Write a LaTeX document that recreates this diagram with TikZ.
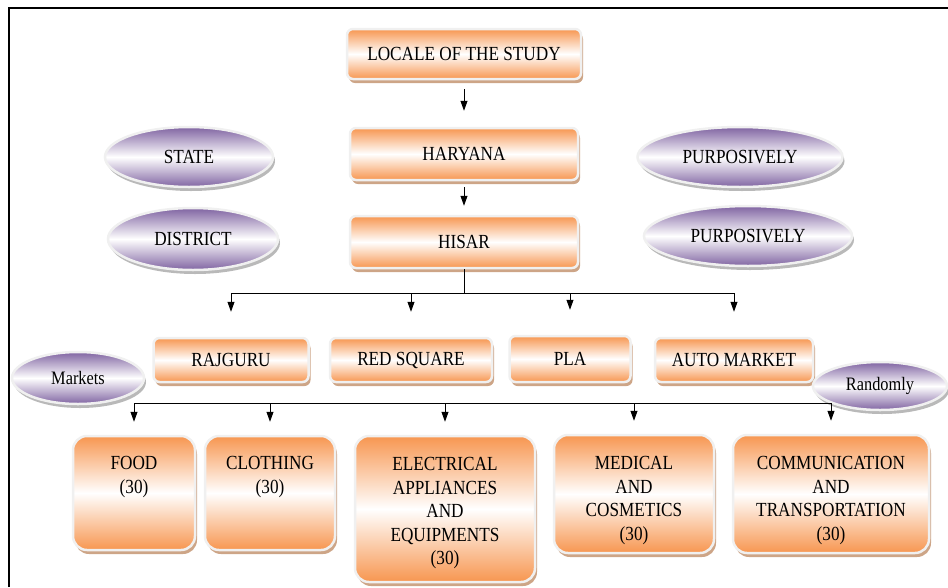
\documentclass[tikz,border=0pt]{standalone}
\usepackage{fontspec}
\setmainfont[FakeStretch=0.86]{Liberation Serif}
\usetikzlibrary{arrows.meta,positioning,shadows,shapes.geometric}
\definecolor{BoxClr}{RGB}{247,150,80}
\definecolor{OvalClr}{RGB}{128,100,162}
\definecolor{RimClr}{RGB}{240,240,240}
\definecolor{ShadeClr}{RGB}{205,165,135}
\definecolor{OvalShadeClr}{RGB}{185,185,185}

\tikzset{
  box/.style={rounded corners=6pt,draw=RimClr,line width=2.5pt,
    top color=BoxClr,bottom color=BoxClr,middle color=white,
    drop shadow={shadow xshift=2pt,shadow yshift=-4pt,fill=ShadeClr,opacity=1},
    align=center,inner sep=0pt,font=\fontsize{20}{23.5}\selectfont},
  bigbox/.style={box,rounded corners=14pt},
  oval/.style={ellipse,draw=RimClr,line width=2.5pt,
    top color=OvalClr,bottom color=OvalClr,middle color=white,
    drop shadow={shadow xshift=2pt,shadow yshift=-4pt,fill=OvalShadeClr,opacity=1},
    inner sep=0pt,font=\fontsize{20}{23.5}\selectfont},
  arr/.style={line width=0.9pt,-{Triangle[length=10pt,width=7pt]}},
  bar/.style={line width=0.9pt}
}

\begin{document}
\begin{tikzpicture}[x=1pt,y=-1pt]
\useasboundingbox (0,0) rectangle (948,587);
\draw[line width=1.4pt] (9,587) -- (9,8) -- (948,8);

\node[box,minimum width=234,minimum height=50] (locale) at (464,54) {LOCALE OF THE STUDY};
\node[box,minimum width=228,minimum height=52] (haryana) at (464,154) {HARYANA};
\node[box,minimum width=228,minimum height=52] (hisar) at (464,242) {HISAR};

\node[oval,minimum width=168,minimum height=60] (state) at (189,157) {STATE};
\node[oval,minimum width=170,minimum height=62] (district) at (193,239) {DISTRICT};
\node[oval,minimum width=205,minimum height=60] (purpA) at (740,157) {PURPOSIVELY};
\node[oval,minimum width=208,minimum height=60] (purpB) at (748,236) {PURPOSIVELY};

\node[box,minimum width=155,minimum height=44] (rajguru) at (231,360) {RAJGURU};
\node[box,minimum width=162,minimum height=44] (redsquare) at (411,360) {RED SQUARE};
\node[box,minimum width=121,minimum height=46] (pla) at (570,359) {PLA};
\node[box,minimum width=158,minimum height=44] (automarket) at (734,360) {AUTO MARKET};

\node[oval,minimum width=132,minimum height=52,font=\fontsize{19}{22}\selectfont] (markets) at (78,378) {Markets};
\node[oval,minimum width=134,minimum height=48,font=\fontsize{19}{22}\selectfont] (randomly) at (880,386) {Randomly};

\node[bigbox,minimum width=122,minimum height=114] (food) at (134,493) {FOOD\\(30)\\[13pt]\mbox{}};
\node[bigbox,minimum width=130,minimum height=114] (clothing) at (270,493) {CLOTHING\\(30)\\[13pt]\mbox{}};
\node[bigbox,minimum width=180,minimum height=146] (electrical) at (445,509) {\mbox{}\\[-1.5pt]ELECTRICAL\\APPLIANCES\\AND\\EQUIPMENTS\\(30)};
\node[bigbox,minimum width=160,minimum height=118] (medical) at (634,494) {\mbox{}\\[2.5pt]MEDICAL\\AND\\COSMETICS\\(30)};
\node[bigbox,minimum width=196,minimum height=118] (communication) at (831,494) {\mbox{}\\[2.5pt]COMMUNICATION\\AND\\TRANSPORTATION\\(30)};

\draw[arr,shorten <=9pt,shorten >=16pt] (locale) -- (haryana);
\draw[arr,shorten <=6pt,shorten >=9pt] (haryana) -- (hisar);

\coordinate (split) at (464,293);
\draw[bar] (hisar.south) -- (split);
\draw[bar] (rajguru |- split) -- (automarket |- split);
\foreach \n in {rajguru,redsquare,pla,automarket}
  \draw[arr,shorten >=25pt] (\n |- split) -- (\n.north);

\coordinate (fork) at (464,403);
\draw[bar] (food |- fork) -- (communication |- fork);
\foreach \n in {food,clothing,electrical,medical,communication}
  \draw[arr,shorten >=13pt] (\n |- fork) -- (\n.north);

\end{tikzpicture}
\end{document}
